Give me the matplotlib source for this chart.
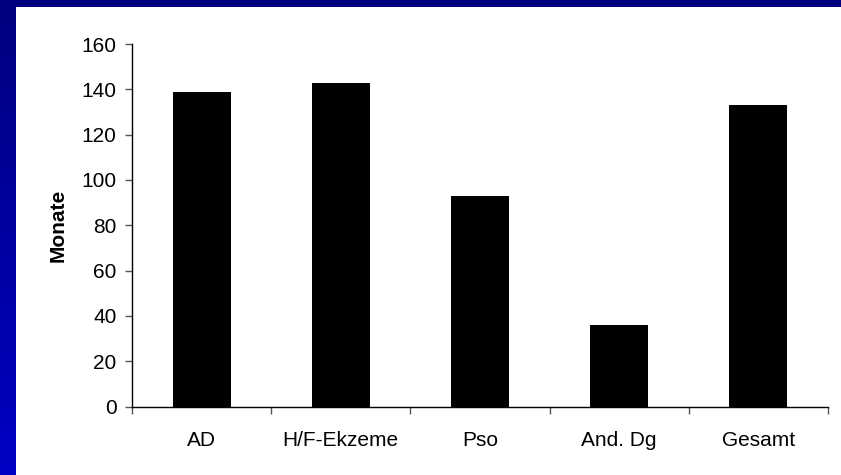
import numpy as np
import matplotlib.pyplot as plt
from matplotlib.patches import Rectangle

plt.rcParams['font.family'] = ['Liberation Sans', 'DejaVu Sans']

# Duration per diagnosis group (months)
categories = ['AD', 'H/F-Ekzeme', 'Pso', 'And. Dg', 'Gesamt']
months = [139, 143, 93, 36, 133]
yticks = [0, 20, 40, 60, 80, 100, 120, 140, 160]

fig = plt.figure(figsize=(8.41, 4.75), dpi=100)
fig.patch.set_facecolor('white')

# slide frame: navy strip on top, gradient strip on the left
fig.patches.append(Rectangle((0, 1 - 7 / 475), 1, 7 / 475, transform=fig.transFigure,
                             facecolor='#000080', edgecolor='none', zorder=0))
side = fig.add_axes([0, 0, 16 / 841, 1 - 7 / 475])
grad = np.linspace(0, 1, 256).reshape(-1, 1)
top_c = np.array([0x00, 0x00, 0x80]) / 255
bot_c = np.array([0x00, 0x00, 0xC4]) / 255
img = top_c[None, None, :] * (1 - grad[:, :, None]) + bot_c[None, None, :] * grad[:, :, None]
side.imshow(img, aspect='auto', extent=[0, 1, 0, 1], origin='upper')
side.axis('off')

ax = fig.add_axes([132 / 841, 68.5 / 475, 696 / 841, 362.5 / 475])
x = np.arange(len(categories))
ax.bar(x, months, width=0.416, color='black', edgecolor='none', zorder=3)

ax.set_xlim(-0.5, len(categories) - 0.5)
ax.set_ylim(0, 160)
ax.set_yticks(yticks)
ax.set_xticks(x)
ax.set_xticklabels(categories, fontsize=15)
ax.set_xticks(np.arange(-0.5, len(categories)), minor=True)
ax.tick_params(axis='x', which='major', length=0, pad=18)
ax.tick_params(axis='x', which='minor', length=5, width=1, color='#555555', direction='out')
ax.tick_params(axis='y', length=5, width=1, color='#555555', direction='out', labelsize=15, pad=6)

for side_name in ['top', 'right']:
    ax.spines[side_name].set_visible(False)
for side_name in ['left', 'bottom']:
    ax.spines[side_name].set_color('black')
    ax.spines[side_name].set_linewidth(1)

ax.set_ylabel('Monate', fontsize=15, fontweight='bold')
ax.yaxis.set_label_coords(-0.092, 0.5)

fig.savefig('out.png', dpi=100)
